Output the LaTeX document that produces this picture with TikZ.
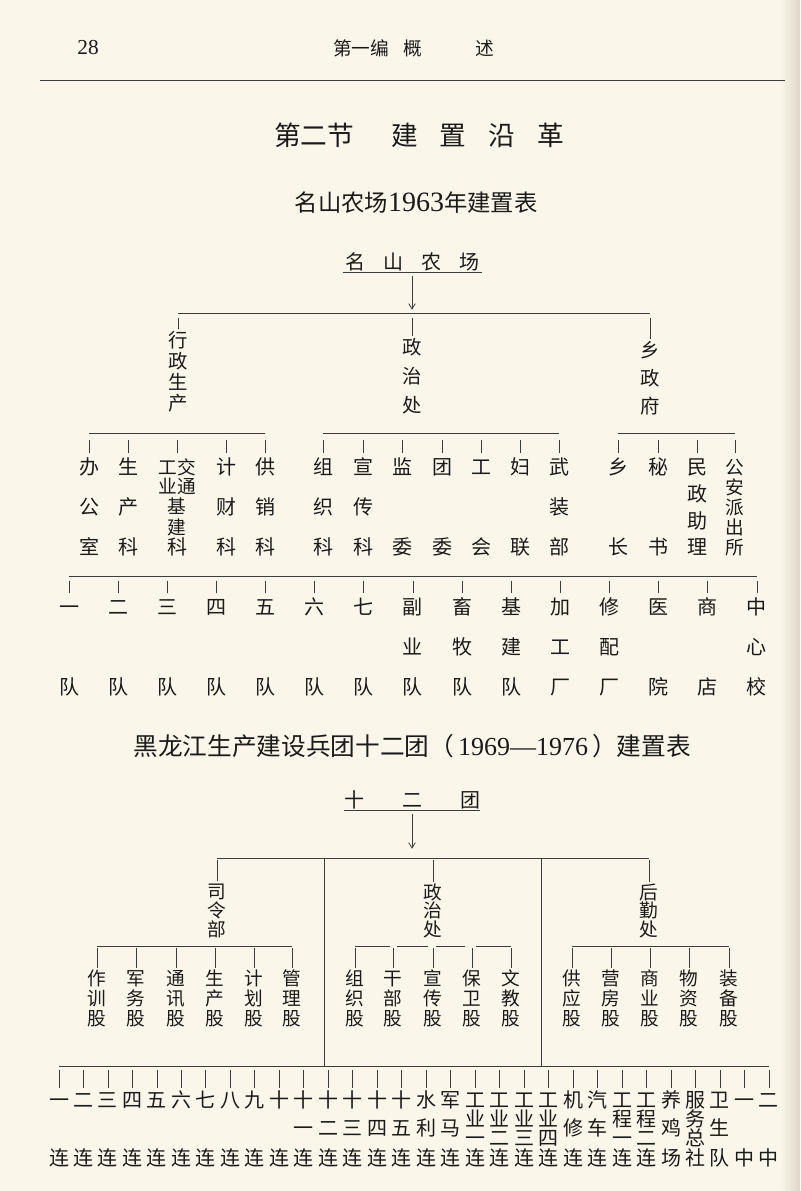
\documentclass[tikz,border=0pt]{standalone}
\usepackage{fontspec}
\setmainfont{Noto Sans CJK SC}
\newfontfamily\lat{Liberation Serif}
\usetikzlibrary{arrows.meta}
\definecolor{paper}{HTML}{FAF7EA}
\definecolor{shadow}{HTML}{DDD8C8}
\definecolor{ink}{HTML}{1A1A1A}
\definecolor{rulec}{HTML}{3C3C3C}
\newcommand\Col[4]{\foreach \cc/\yy [count=\kk] in {#4} {\node[#3] (#1-\kk) at (#2,\yy) {\cc};}}
\begin{document}
\begin{tikzpicture}[x=0.75pt,y=-0.75pt,
  ch/.style={inner sep=0pt, text height=13.2pt, text depth=1.8pt, text=ink, font=\fontsize{15}{15}\selectfont},
  chs/.style={inner sep=0pt, text height=12.32pt, text depth=1.68pt, text=ink, font=\fontsize{14}{14}\selectfont},
  chm/.style={inner sep=0pt, text height=12.76pt, text depth=1.74pt, text=ink, font=\fontsize{14.5}{14.5}\selectfont},
  ln/.style={draw=rulec, line width=0.6pt},
  tick/.style 2 args={ln, shorten <=#1, shorten >=#2},
  arr/.style={ln, -{Straight Barb[length=4pt,width=5pt]}},
]
\fill[paper] (0,0) rectangle (800,1191);
\shade[left color=paper, right color=shadow] (780,0) rectangle (800,1191);
\useasboundingbox (0,0) rectangle (800,1191);

% header
\node[inner sep=0pt, text=ink, font=\lat\fontsize{16}{16}\selectfont] (pg) at (88,48) {28};
\node[ch, font=\fontsize{14}{14}\selectfont, anchor=west] (hdr) at (333,48) {第一编\hspace{11pt}概\hspace{40pt}述};
\coordinate (r1) at (40,80); \coordinate (r2) at (785,80);
\draw[ln] (r1) -- (r2);

% titles
\node[ch, font=\fontsize{20}{20}\selectfont, text height=17.6pt, text depth=2.4pt, anchor=west] (title) at (274,135) {第二节\hspace{27.75pt}建\hspace{16.5pt}置\hspace{16.5pt}沿\hspace{16.5pt}革};
\node[ch, font=\fontsize{17.5}{17.5}\selectfont, text height=15.4pt, text depth=2.1pt] (sub1) at (416,203) {名山农场{\lat\fontsize{21}{21}\selectfont 1963}年建置表};

% ===== chart 1 =====
\node[ch] (ms) at (412,262) {名\hspace{13.5pt}山\hspace{13.5pt}农\hspace{13.5pt}场};
\draw[ln] ([xshift=-1.5pt]ms.south west) -- ([xshift=2pt]ms.south east);
\coordinate (b0) at (0,313);
\Col{A}{178}{chm}{行/340,政/361,生/382,产/403}
\Col{B}{412}{chm}{政/347,治/376,处/405}
\Col{C}{650}{chm}{乡/350,政/378,府/406}
\draw[ln] (A-1.north |- b0) -- (C-1.north |- b0);
\draw[arr, shorten <=2.5pt, shorten >=2.5pt] (ms.south) -- (ms.south |- b0);
\foreach \n in {A,B,C} {\draw[tick={3.5pt}{1pt}] (\n-1.north |- b0) -- (\n-1.north);}

% level 2
\coordinate (b1) at (0,433);
\Col{La}{89}{ch}{办/467,公/507,室/547}
\Col{Lb}{128}{ch}{生/467,产/507,科/547}
\Col{Lc}{177}{chs}{工交/467,业通/486,基/506,建/527}
\node[ch] (Lc-5) at (177,547) {科};
\Col{Ld}{226}{ch}{计/467,财/507,科/547}
\Col{Le}{265}{ch}{供/467,销/507,科/547}
\Col{Ma}{323}{ch}{组/467,织/507,科/547}
\Col{Mb}{363}{ch}{宣/467,传/507,科/547}
\Col{Mc}{402}{ch}{监/467,委/547}
\Col{Md}{442}{ch}{团/467,委/547}
\Col{Me}{481}{ch}{工/467,会/547}
\Col{Mf}{520}{ch}{妇/467,联/547}
\Col{Mg}{559}{ch}{武/467,装/507,部/547}
\Col{Ra}{618}{ch}{乡/467,长/547}
\Col{Rb}{658}{ch}{秘/467,书/547}
\Col{Rc}{697}{ch}{民/467,政/494,助/521,理/547}
\Col{Rd}{735}{chs}{公/467,安/487,派/507,出/527,所/547}
\draw[ln] (La-1.north |- b1) -- (Le-1.north |- b1);
\draw[ln] (Ma-1.north |- b1) -- (Mg-1.north |- b1);
\draw[ln] (Ra-1.north |- b1) -- (Rd-1.north |- b1);
\foreach \n in {La,Lb,Lc,Ld,Le,Ma,Mb,Mc,Md,Me,Mf,Mg,Ra,Rb,Rc,Rd}
  {\draw[tick={5pt}{3pt}] (\n-1.north |- b1) -- (\n-1.north);}

% level 3
\coordinate (b2) at (0,576);
\foreach \a/\b/\d [count=\i] in {一/{}/队,二/{}/队,三/{}/队,四/{}/队,五/{}/队,六/{}/队,七/{}/队,副/业/队,畜/牧/队,基/建/队,加/工/厂,修/配/厂,医/{}/院,商/{}/店,中/心/校}{
  \pgfmathsetmacro\xx{69+(\i-1)*49.14}
  \node[ch] (T\i-1) at (\xx,607) {\a};
  \node[ch] (T\i-2) at (\xx,647) {\b};
  \node[ch] (T\i-3) at (\xx,687) {\d};
  \draw[tick={3.5pt}{2.5pt}] (T\i-1.north |- b2) -- (T\i-1.north);
}
\draw[ln] (T1-1.north |- b2) -- (T15-1.north |- b2);

% ===== chart 2 =====
\node[ch, font=\fontsize{18.5}{18.5}\selectfont, text height=16.3pt, text depth=2.2pt] (t2) at (412,746) {黑龙江生产建设兵团十二团（\hspace{3pt}{\lat\fontsize{19.5}{19.5}\selectfont 1969—1976}\hspace{3pt}）建置表};
\node[ch] (sh) at (412,800) {十\hspace{28.5pt}二\hspace{28.5pt}团};
\draw[ln] (sh.south west) -- (sh.south east);
\coordinate (c0) at (0,858);
\draw[arr, shorten <=2.5pt, shorten >=7pt] (sh.south) -- (sh.south |- c0);
\Col{S}{217}{chs}{司/891,令/910,部/929}
\Col{Z}{433}{chs}{政/892,治/910,处/929}
\Col{H}{649}{chs}{后/892,勤/910,处/929}
\draw[ln] (S-1.north |- c0) -- (H-1.north |- c0);
\foreach \n in {S,Z,H} {\draw[tick={1.5pt}{0.5pt}] (\n-1.north |- c0) -- (\n-1.north);}
\coordinate (s1t) at (324,858); \coordinate (s1b) at (324,1066);
\coordinate (s2t) at (541,858); \coordinate (s2b) at (541,1066);
\draw[ln] (s1t) -- (s1b);
\draw[ln] (s2t) -- (s2b);

\coordinate (c1) at (0,946);
\foreach \g/\xx/\a/\b/\d [count=\i] in {
  P/97/作/训/股, P/136/军/务/股, P/176/通/讯/股, P/215/生/产/股, P/254/计/划/股, P/292/管/理/股,
  Q/355/组/织/股, Q/393/干/部/股, Q/433/宣/传/股, Q/472/保/卫/股, Q/511/文/教/股,
  R/572/供/应/股, R/611/营/房/股, R/650/商/业/股, R/689/物/资/股, R/729/装/备/股}{
  \node[chs] (K\i-1) at (\xx,978) {\a};
  \node[chs] (K\i-2) at (\xx,998) {\b};
  \node[chs] (K\i-3) at (\xx,1018) {\d};
  \draw[tick={1.5pt}{0pt}] (K\i-1.north |- c1) -- (K\i-1.north);
}
\draw[ln] (K1-1.north |- c1) -- (K6-1.north |- c1);
\draw[ln] (K7-1.north |- c1) -- ([xshift=-2.5pt]K8-1.north |- c1);
\draw[ln] ([xshift=3pt]K8-1.north |- c1) -- ([xshift=-3.5pt]K9-1.north |- c1);
\draw[ln] ([xshift=2.5pt]K9-1.north |- c1) -- ([xshift=-5pt]K10-1.north |- c1);
\draw[ln] ([xshift=3pt]K10-1.north |- c1) -- (K11-1.north |- c1);
\draw[ln] (K12-1.north |- c1) -- (K16-1.north |- c1);

% bottom row
\coordinate (c2) at (0,1066);
\foreach \ty/\a/\b/\c/\d [count=\i] in {
  3/一/{}/{}/连,3/二/{}/{}/连,3/三/{}/{}/连,3/四/{}/{}/连,3/五/{}/{}/连,
  3/六/{}/{}/连,3/七/{}/{}/连,3/八/{}/{}/连,3/九/{}/{}/连,3/十/{}/{}/连,
  3/十/一/{}/连,3/十/二/{}/连,3/十/三/{}/连,3/十/四/{}/连,3/十/五/{}/连,
  3/水/利/{}/连,3/军/马/{}/连,
  4/工/业/一/连,4/工/业/二/连,4/工/业/三/连,4/工/业/四/连,
  3/机/修/{}/连,3/汽/车/{}/连,
  4/工/程/一/连,4/工/程/二/连,
  3/养/鸡/{}/场,4/服/务/总/社,3/卫/生/{}/队,3/一/{}/{}/中,3/二/{}/{}/中}{
  \pgfmathsetmacro\xx{59+(\i-1)*24.48}
  \pgfmathsetmacro\yb{\ty==3 ? 1128 : 1119}
  \node[ch] (U\i-1) at (\xx,1100) {\a};
  \node[ch] (U\i-2) at (\xx,\yb) {\b};
  \node[ch] (U\i-3) at (\xx,1138) {\c};
  \node[ch] (U\i-4) at (\xx,1158) {\d};
  \draw[tick={3pt}{1.5pt}] (U\i-1.north |- c2) -- (U\i-1.north);
}
\draw[ln] (U1-1.north |- c2) -- (U30-1.north |- c2);
\end{tikzpicture}
\end{document}
